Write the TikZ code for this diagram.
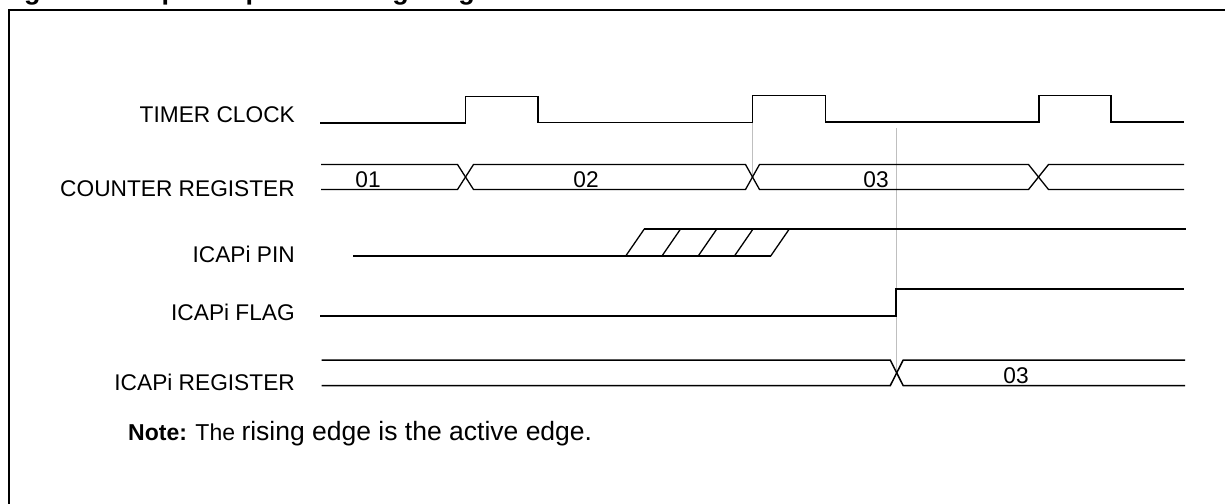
\documentclass[tikz,border=0pt]{standalone}
\usepackage{fontspec}
\setmainfont{Liberation Sans}
\begin{document}
\begin{tikzpicture}[x=1pt,y=-1pt,
  sig/.style={line width=1.5pt, line join=miter},
  bus/.style={line width=1.3pt, line join=miter},
  guide/.style={line width=0.8pt, draw=black!25},
  frame/.style={line width=2pt},
  lbl/.style={anchor=base east, inner sep=0pt, font=\fontsize{22.7}{26}\selectfont},
  val/.style={anchor=base, inner sep=0pt, font=\fontsize{22.7}{26}\selectfont},
  notetext/.style={anchor=base west, inner sep=0pt, font=\fontsize{23}{26}\selectfont},
  titletext/.style={anchor=base west, inner sep=0pt, font=\fontsize{27}{30}\selectfont\bfseries},
]
\useasboundingbox (0,0) rectangle (1225,503);

% title (cut off by page top, as in the reference)
\node[titletext] (title) at (0,-0.5) {Figure 50. Input Capture Timing Diagram};

% frame
\draw[frame] (9,510) -- (9,10) -- (1235,10);

% labels
\node[lbl] (lclk) at (295,122.7) {TIMER CLOCK};
\node[lbl] (lcnt) at (295,196.7) {COUNTER REGISTER};
\node[lbl] (lpin) at (295,262.3) {ICAPi PIN};
\node[lbl] (lflag) at (295,320.7) {ICAPi FLAG};
\node[lbl] (lreg) at (295,390.7) {ICAPi REGISTER};

% guide lines
\draw[guide] (752.5,97) -- (752.5,177);
\draw[guide] (896.3,128) -- (896.3,372);

% timer clock
\draw[sig] (320,123) -- (465.5,123) -- (465.5,96.5) -- (538,96.5) -- (538,122.5)
  -- (752.5,122.5) -- (752.5,95.5) -- (825.5,95.5) -- (825.5,122)
  -- (1039,122) -- (1039,95.5) -- (1111,95.5) -- (1111,122) -- (1184,122);

% counter register bus
\def\ct{164.5}\def\cb{189.5}
\draw[bus] (321,\ct) -- (457.5,\ct) -- (473.5,\cb) -- (745.5,\cb) -- (759.5,\ct)
  -- (1028.5,\ct) -- (1048.5,\cb) -- (1184,\cb);
\draw[bus] (321,\cb) -- (457.5,\cb) -- (473.5,\ct) -- (745.5,\ct) -- (759.5,\cb)
  -- (1028.5,\cb) -- (1048.5,\ct) -- (1184,\ct);
\node[val] (v01) at (368,187.5) {01};
\node[val] (v02) at (586,187.5) {02};
\node[val] (v03) at (876,187.5) {03};

% ICAPi pin
\draw[sig] (353,256) -- (770.7,256);
\draw[sig] (644.3,229) -- (1186,229);
\foreach \i in {0,...,4}{
  \draw[sig, line width=1.3pt] (625.7+36.25*\i,256) -- (644.3+36.25*\i,229);
}

% ICAPi flag
\draw[sig] (320,316) -- (896,316) -- (896,289) -- (1184,289);

% ICAPi register bus
\def\rt{360}\def\rb{385.7}
\draw[sig] (321.7,\rt) -- (890.2,\rt) -- (903.2,\rb) -- (1185,\rb);
\draw[sig] (321.7,\rb) -- (890.2,\rb) -- (903.2,\rt) -- (1185,\rt);
\node[val] (v03r) at (1016,383) {03};

% note
\node[notetext] (note) at (128,440.7) {\textbf{Note:} The {\fontsize{26.5}{29}\selectfont rising edge is the active edge.}};
\end{tikzpicture}
\end{document}
